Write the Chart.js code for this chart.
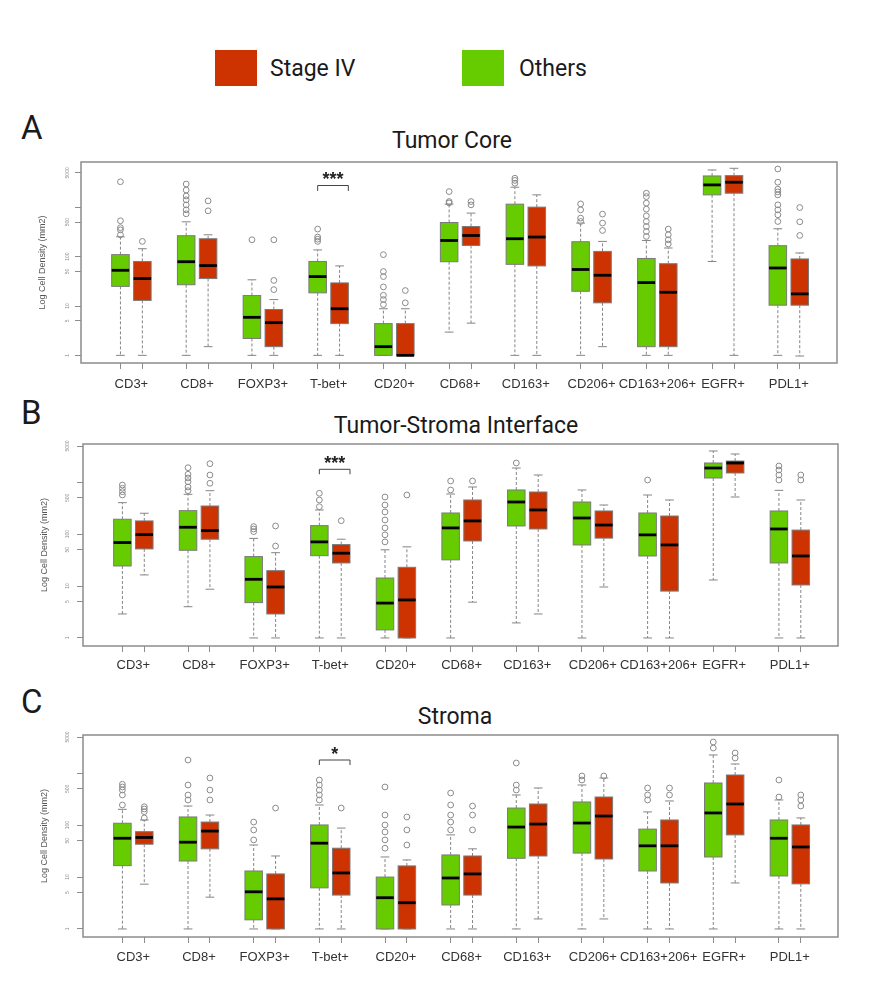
<!DOCTYPE html>
<html>
<head>
<meta charset="utf-8">
<script src="https://cdn.jsdelivr.net/npm/chart.js@4.4.0/dist/chart.umd.min.js"></script>
<style>
  body { margin: 0; background: #fff; width: 886px; height: 989px; position: relative; overflow: hidden; font-family: Roboto, "Noto Sans", sans-serif; }
  .txt { position: absolute; color: #1a1a1a; white-space: nowrap; line-height: 1; }
  .mid { transform: translateX(-50%); }
  .sw { position: absolute; width: 42px; height: 36px; }
  canvas { position: absolute; left: 0; }
</style>
</head>
<body>
<div class="sw" style="left:215px;top:50px;background:#cc3300"></div>
<div class="txt" style="left:270px;top:57px;font-size:23px">Stage IV</div>
<div class="sw" style="left:462px;top:50px;background:#66cc00"></div>
<div class="txt" style="left:519px;top:57px;font-size:23px">Others</div>

<div class="txt" style="left:21px;top:111px;font-size:33px">A</div>
<div class="txt mid" style="left:452px;top:129px;font-size:23px">Tumor Core</div>
<div class="txt" style="left:21px;top:396px;font-size:33px">B</div>
<div class="txt mid" style="left:456px;top:414px;font-size:23px">Tumor-Stroma Interface</div>
<div class="txt" style="left:21px;top:685px;font-size:33px">C</div>
<div class="txt mid" style="left:455px;top:705px;font-size:23px">Stroma</div>

<canvas id="core" width="886" height="245" style="top:150px"></canvas>
<canvas id="iface" width="886" height="246" style="top:432px"></canvas>
<canvas id="stroma" width="886" height="246" style="top:723px"></canvas>

<script>
'use strict';
const markers = ['CD3+', 'CD8+', 'FOXP3+', 'T-bet+', 'CD20+', 'CD68+', 'CD163+', 'CD206+', 'CD163+206+', 'EGFR+', 'PDL1+'];
const yTicks = [1, 5, 10, 50, 100, 500, 1000, 5000];

// each entry: [lower whisker, Q1, median, Q3, upper whisker]
const coreOthers = [[1, 25, 53, 110, 253], [1, 27, 79, 266, 509], [1, 2.2, 5.9, 16.3, 34], [1, 18.5, 39.5, 80, 137],
  [1, 1, 1.5, 4.4, 8.8], [2.96, 79, 213, 493, 1160], [1, 70, 231, 1160, 2560], [1, 19.9, 55, 201, 480],
  [1, 1.5, 29.8, 92, 213], [80, 1790, 2850, 4330, 5720], [1, 10.4, 59, 167, 368]];
const coreStage = [[1, 13, 36, 80, 145], [1.5, 36, 66, 231, 278], [1, 1.5, 4.6, 8.5, 13.5], [1, 4.4, 8.8, 29.4, 65],
  [1, 1, 1, 4.4, 8.8], [4.5, 169, 269, 409, 764], [1, 65, 250, 1010, 1790], [1.5, 11.6, 42, 128, 204],
  [1, 1.5, 19, 72, 150], [1, 1936, 3230, 4390, 6190], [0.97, 10.4, 17.6, 90, 119]];
const coreOthersOut = [[277, 350, 387, 534, 3300], [740, 890, 1120, 1420, 1700, 2240, 2970], [220], [204, 226, 250, 363],
  [10.7, 13.5, 16.5, 24.4, 39.5, 50, 110], [1230, 1310, 2085], [3080, 3510, 3890], [517, 605, 890, 1175],
  [257, 324, 409, 517, 673, 920, 1216, 1652, 1936], [], [517, 705, 890, 1123, 1790, 2056, 2333, 3230, 5990]];
const coreStageOut = [[204], [850, 1350], [21.5, 33, 220], [], [11.6, 20.6], [1123, 1310], [], [340, 480, 729],
  [181, 220, 278, 363], [], [269, 509, 991]];

const ifaceOthers = [[2.9, 24.4, 69, 194, 405], [4, 49, 136, 284, 587], [1, 4.8, 13.5, 37, 83], [1, 38.5, 71, 146, 293],
  [1, 1.43, 4.7, 14.3, 50], [1, 32, 132, 256, 595], [1.95, 144, 417, 711, 1885], [1, 62, 205, 417, 711],
  [1, 38, 97, 256, 569], [13.1, 1210, 1885, 2354, 4010], [1, 27.9, 126, 280, 700]];
const ifaceStage = [[16.4, 52, 98, 180, 253], [8.7, 80, 117, 349, 689], [1, 2.9, 9.6, 19.8, 44], [1, 27.9, 43, 63, 80],
  [1, 1, 5.4, 23, 57], [4.9, 74, 180, 456, 812], [2.9, 126, 293, 650, 1382], [9.6, 84, 150, 280, 365],
  [1, 8, 62, 224, 456], [521, 1511, 2354, 2570, 3510], [1, 10.5, 38, 120, 456]];
const ifaceOthersOut = [[569, 659, 766, 887], [689, 812, 1027, 1210, 1427, 1911], [112, 126, 140], [339, 456, 614],
  [71, 97, 132, 188, 268, 365, 521], [711, 1059], [2354], [], [1107], [], [1107, 1382, 1723, 2061]];
const ifaceStageOut = [[], [957, 1382, 2282], [59, 144], [182], [569], [1059], [], [], [], [], [1107, 1382]];

const stromaOthers = [[1, 16.6, 56, 109, 202], [1, 20.4, 47, 144, 234], [1, 1.5, 5.2, 13.1, 41.5], [1, 6.2, 45, 101, 245],
  [1, 1, 4, 10, 24.4], [1, 2.9, 9.6, 26.7, 65], [1, 23, 92, 214, 382], [1, 29, 110, 280, 595],
  [1, 13.1, 40, 84, 180], [1, 24.4, 172, 650, 2254], [1, 10.5, 56, 126, 306]];
const stromaStage = [[7.3, 43, 58, 75, 126], [4.1, 35, 77, 115, 157], [1, 1, 3.8, 11.5, 25.5], [1, 4.5, 12, 36, 88],
  [1, 1, 3.2, 16.4, 21.4], [1, 4.5, 11.5, 25.5, 35], [1.56, 25.5, 105, 256, 521], [1.56, 22.3, 150, 349, 812],
  [1, 7.7, 40, 126, 293], [7.7, 65, 256, 927, 1511], [1, 7.4, 38, 101, 138]];
const stromaOthersOut = [[245, 382, 476, 545, 614], [306, 382, 595, 1803], [52, 81, 115], [306, 382, 476, 595, 743],
  [36, 52, 74, 101, 157, 545], [81, 115, 157, 245, 417], [476, 595, 1580], [743, 887], [306, 382, 521], [3070, 4010], [349, 743]];
const stromaStageOut = [[138, 182, 205, 227], [306, 476, 812], [214], [214], [41.5, 81, 144], [81, 157, 234], [], [887],
  [382, 521], [1972, 2460], [234, 306, 382]];

// significance marks: [marker index, bracket top, bracket leg end, star centre, text]
const coreSig = [3, 2770, 2150, 4570, '***'];
const ifaceSig = [3, 1780, 1427, 2774, '***'];
const stromaSig = [3, 1803, 1445, 2810, '*'];

const colors = ['#66cc00', '#cc3300'];
const xMin = -0.8, xMax = 33.7;
const pos = (i, g) => 3 * i + 1 + g;

function boxPlugin(groups, sig) {
  return {
    id: 'boxes',
    beforeDatasetsDraw(chart) {
      const {ctx, chartArea: a, scales: {x, y}} = chart;
      ctx.save();
      groups.forEach((stats, g) => {
        stats.forEach((s, i) => {
          const cx = x.getPixelForValue(pos(i, g));
          const hw = x.getPixelForValue(pos(i, g) + 0.4) - cx;
          const [lo, q1, md, q3, hi] = s.map(v => y.getPixelForValue(v));
          ctx.strokeStyle = '#858585';
          ctx.lineWidth = 1;
          ctx.setLineDash([3, 2]);
          ctx.beginPath();
          ctx.moveTo(cx, q3); ctx.lineTo(cx, hi);
          ctx.moveTo(cx, q1); ctx.lineTo(cx, lo);
          ctx.stroke();
          ctx.setLineDash([]);
          ctx.beginPath();
          ctx.moveTo(cx - hw / 2, hi); ctx.lineTo(cx + hw / 2, hi);
          ctx.moveTo(cx - hw / 2, lo); ctx.lineTo(cx + hw / 2, lo);
          ctx.stroke();
          ctx.fillStyle = colors[g];
          ctx.fillRect(cx - hw, q3, hw * 2, q1 - q3);
          ctx.strokeStyle = '#7a7a7a';
          ctx.strokeRect(cx - hw, q3, hw * 2, q1 - q3);
          ctx.strokeStyle = '#000';
          ctx.lineWidth = 2.8;
          ctx.beginPath();
          ctx.moveTo(cx - hw, md); ctx.lineTo(cx + hw, md);
          ctx.stroke();
        });
      });
      // significance bracket
      const xa = x.getPixelForValue(pos(sig[0], 0));
      const xb = x.getPixelForValue(pos(sig[0], 1) + 0.4);
      const yt = y.getPixelForValue(sig[1]), yl = y.getPixelForValue(sig[2]);
      ctx.strokeStyle = '#444';
      ctx.lineWidth = 1;
      ctx.beginPath();
      ctx.moveTo(xa, yl); ctx.lineTo(xa, yt); ctx.lineTo(xb, yt); ctx.lineTo(xb, yl);
      ctx.stroke();
      ctx.fillStyle = '#222';
      ctx.font = 'bold 18px "Liberation Sans", Arial, sans-serif';
      ctx.textAlign = 'center';
      ctx.textBaseline = 'alphabetic';
      ctx.fillText(sig[4], (xa + xb) / 2, y.getPixelForValue(sig[3]) + 10);
      // frame
      ctx.strokeStyle = '#8c8c8c';
      ctx.lineWidth = 1.5;
      ctx.strokeRect(a.left, a.top, a.right - a.left, a.bottom - a.top);
      ctx.restore();
    }
  };
}

function drawPanel(id, p) {
  const outPoints = (outs, g) => outs.flatMap((arr, i) => arr.map(v => ({x: pos(i, g), y: v})));
  const boxTicks = markers.flatMap((m, i) => [pos(i, 0), pos(i, 1)]);
  const labelTicks = markers.map((m, i) => pos(i, 0) + 0.5);
  new Chart(document.getElementById(id), {
    type: 'scatter',
    data: {
      datasets: [
        {label: 'Others', data: outPoints(p.othersOut, 0)},
        {label: 'Stage IV', data: outPoints(p.stageOut, 1)}
      ]
    },
    options: {
      responsive: false,
      animation: false,
      devicePixelRatio: 1,
      layout: {padding: {top: 12, right: p.right, left: 0, bottom: 0}},
      elements: {point: {radius: 2.9, hoverRadius: 2.9, borderWidth: 1, borderColor: '#8a8a8a', backgroundColor: 'rgba(0,0,0,0)'}},
      plugins: {legend: {display: false}, tooltip: {enabled: false}},
      scales: {
        x: {
          type: 'linear', position: 'bottom', min: xMin, max: xMax, weight: 0,
          afterBuildTicks: s => { s.ticks = boxTicks.map(v => ({value: v})); },
          afterFit: s => { s.height = 7; },
          ticks: {display: false},
          grid: {display: true, drawOnChartArea: false, drawTicks: true, tickLength: 6, color: '#8c8c8c'},
          border: {display: false}
        },
        x2: {
          type: 'linear', position: 'bottom', min: xMin, max: xMax, weight: 1,
          afterBuildTicks: s => { s.ticks = labelTicks.map(v => ({value: v})); },
          afterFit: s => { s.height = 25; },
          ticks: {
            autoSkip: false, minRotation: 0, maxRotation: 0, padding: p.labelPad, color: '#333',
            font: {family: '"Liberation Sans", Arial, sans-serif', size: 13},
            callback: (v, i) => markers[i]
          },
          grid: {display: false, drawTicks: false},
          border: {display: false}
        },
        y: {
          type: 'logarithmic', min: p.yMin, max: p.yMax,
          afterBuildTicks: s => { s.ticks = yTicks.map(v => ({value: v})); },
          afterFit: s => { s.width = p.left; },
          ticks: {
            autoSkip: false, minRotation: 90, maxRotation: 90, crossAlign: 'center', padding: p.tickPad,
            color: '#8a8a8a', font: {family: '"Liberation Sans", Arial, sans-serif', size: 5},
            callback: v => (v === 1000 ? '' : String(v))
          },
          grid: {display: true, drawOnChartArea: false, drawTicks: true, tickLength: 6, color: '#8c8c8c'},
          border: {display: false},
          title: {
            display: true, text: 'Log Cell Density (mm2)', color: '#555',
            font: {family: '"Liberation Sans", Arial, sans-serif', size: 9}, padding: {top: p.titlePad, bottom: 0}
          }
        }
      }
    },
    plugins: [boxPlugin([p.others, p.stage], p.sig)]
  });
}

drawPanel('core', {others: coreOthers, stage: coreStage, othersOut: coreOthersOut, stageOut: coreStageOut, sig: coreSig,
  yMin: 0.724, yMax: 8300, left: 81, right: 49, tickPad: 2, titlePad: 37.6, labelPad: 7});
drawPanel('iface', {others: ifaceOthers, stage: ifaceStage, othersOut: ifaceOthersOut, stageOut: ifaceStageOut, sig: ifaceSig,
  yMin: 0.70, yMax: 5470, left: 83, right: 48, tickPad: 4, titlePad: 39.6, labelPad: 5});
drawPanel('stroma', {others: stromaOthers, stage: stromaStage, othersOut: stromaOthersOut, stageOut: stromaStageOut, sig: stromaSig,
  yMin: 0.70, yMax: 5470, left: 83, right: 48, tickPad: 4, titlePad: 39.6, labelPad: 6});
</script>
</body>
</html>
